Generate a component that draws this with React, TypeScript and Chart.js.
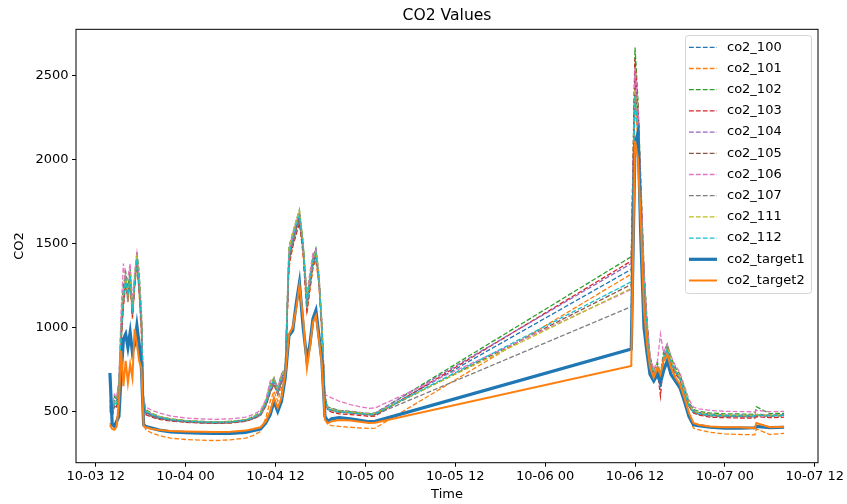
import React, { useEffect, useRef } from 'react';
import { Chart, registerables } from 'chart.js';

Chart.register(...registerables);

// hours since 10-03 00:00
const times = [
  13.9, 14.2, 14.5, 14.8, 15.1, 15.4, 15.7, 16.0, 16.3, 16.6, 16.9, 17.2, 17.5, 17.8, 18.1, 18.4, 18.7,
  19.5, 20.5, 22, 24, 26, 28, 30, 32, 33, 34,
  34.7, 35.3, 35.8, 36.3, 36.8, 37.3, 37.8, 38.3, 38.8, 39.2, 39.7, 40.2, 40.6, 41.0, 41.4, 41.8, 42.2, 42.6, 43.0,
  43.5, 44.5, 46, 47.5, 48.5, 49.3,
  83.5, 84.0, 84.4, 84.8, 85.2, 85.6, 86.0, 86.5, 87.0, 87.4, 87.8, 88.3, 88.8, 89.4, 90.0, 90.6, 91.2, 91.8, 92.5,
  94, 96, 98, 100.0, 100.2, 102, 103.9,
];

const co2_100 = [
  540, 500, 570, 560, 640, 980, 1180, 1280, 1150, 1300, 1080, 1260, 1400, 1220, 1000, 530, 495,
  475, 460, 448, 440, 436, 433, 436, 447, 462, 485,
  550, 640, 690, 620, 700, 740, 1400, 1510, 1600, 1660, 1460, 1130, 1260, 1380, 1430, 1280, 980, 570, 515,
  510, 500, 495, 488, 482, 480,
  1345, 2450, 2200, 1720, 1280, 980, 790, 710, 760, 690, 810, 870, 790, 735, 695, 610, 535, 495, 485,
  476, 472, 472, 470, 478, 474, 476,
];
const co2_101 = [
  430, 400, 420, 450, 560, 900, 1200, 1300, 1150, 1280, 1050, 1230, 1380, 1200, 950, 420, 390,
  370, 355, 340, 332, 328, 326, 330, 340, 355, 380,
  460, 560, 620, 560, 640, 690, 1350, 1480, 1570, 1640, 1420, 1080, 1220, 1350, 1400, 1250, 950, 450, 420,
  415, 410, 405, 400, 398, 400,
  1317, 2350, 2100, 1650, 1200, 950, 760, 680, 720, 660, 780, 840, 760, 700, 660, 570, 470, 400, 390,
  375, 365, 362, 360, 395, 362, 368,
];
const co2_102 = [
  560, 510, 590, 570, 680, 1050, 1250, 1330, 1220, 1350, 1120, 1300, 1450, 1330, 1100, 560, 510,
  488, 470, 455, 445, 440, 437, 440, 450, 468, 495,
  560, 660, 700, 640, 720, 760, 1480, 1560, 1640, 1700, 1500, 1180, 1300, 1420, 1470, 1320, 1020, 590, 525,
  518, 505, 498, 490, 485, 488,
  1420, 2665, 2350, 1850, 1350, 1050, 830, 740, 790, 720, 850, 900, 820, 760, 720, 640, 555, 510, 500,
  490, 485, 484, 482, 527, 486, 488,
];
const co2_103 = [
  510, 470, 540, 530, 610, 940, 1120, 1260, 1180, 1290, 1060, 1250, 1400, 1230, 1030, 520, 480,
  465, 452, 442, 435, 430, 428, 430, 440, 455, 475,
  530, 610, 660, 600, 670, 710, 1380, 1480, 1560, 1620, 1440, 1100, 1230, 1360, 1420, 1270, 990, 560, 505,
  495, 485, 480, 475, 470, 472,
  1395, 2600, 2300, 1800, 1320, 1020, 810, 700, 740, 590, 800, 860, 780, 720, 690, 610, 530, 490, 478,
  465, 462, 460, 460, 468, 462, 465,
];
const co2_104 = [
  530, 490, 560, 545, 630, 960, 1200, 1310, 1210, 1330, 1090, 1270, 1420, 1260, 1060, 540, 500,
  480, 466, 452, 443, 438, 435, 437, 447, 462, 485,
  545, 630, 690, 615, 695, 730, 1440, 1540, 1620, 1680, 1490, 1160, 1290, 1410, 1460, 1300, 1010, 585, 522,
  515, 505, 500, 492, 488, 490,
  1380, 2500, 2250, 1760, 1300, 1000, 800, 720, 770, 710, 830, 880, 800, 745, 705, 625, 545, 505, 493,
  483, 478, 477, 476, 482, 478, 480,
];
const co2_105 = [
  500, 470, 530, 525, 600, 920, 1140, 1270, 1190, 1300, 1080, 1260, 1390, 1240, 1040, 530, 490,
  472, 458, 446, 438, 433, 430, 433, 443, 457, 478,
  535, 615, 670, 605, 680, 715, 1400, 1500, 1590, 1650, 1470, 1140, 1260, 1390, 1440, 1290, 1000, 570, 512,
  505, 495, 490, 484, 480, 482,
  1255, 2480, 2230, 1740, 1290, 990, 795, 715, 760, 700, 815, 875, 795, 738, 698, 618, 538, 498, 488,
  478, 474, 473, 472, 478, 474, 476,
];
const co2_106 = [
  570, 520, 600, 580, 690, 1100, 1380, 1250, 1300, 1380, 1150, 1320, 1440, 1300, 1080, 570, 525,
  505, 490, 472, 460, 455, 452, 455, 465, 480, 505,
  570, 680, 700, 640, 720, 750, 1460, 1560, 1630, 1690, 1470, 1200, 1330, 1440, 1460, 1310, 1020, 600, 590,
  580, 560, 540, 525, 518, 520,
  1225, 2550, 2300, 1800, 1330, 1030, 820, 750, 800, 960, 850, 900, 830, 770, 730, 650, 570, 525, 515,
  505, 500, 498, 497, 505, 498, 500,
];
const co2_107 = [
  520, 480, 550, 540, 620, 950, 1160, 1270, 1180, 1300, 1070, 1250, 1390, 1230, 1030, 520, 485,
  470, 456, 445, 437, 432, 430, 432, 442, 456, 476,
  535, 615, 665, 600, 675, 710, 1390, 1500, 1580, 1640, 1460, 1120, 1250, 1370, 1430, 1280, 990, 565, 510,
  502, 494, 490, 483, 478, 480,
  1123, 2400, 2150, 1700, 1260, 980, 785, 705, 750, 690, 805, 865, 785, 730, 690, 610, 530, 492, 482,
  472, 468, 468, 467, 474, 470, 472,
];
const co2_111 = [
  530, 490, 565, 550, 640, 990, 1190, 1300, 1200, 1320, 1100, 1290, 1430, 1270, 1080, 550, 505,
  485, 470, 455, 446, 440, 437, 440, 450, 466, 490,
  555, 650, 700, 625, 710, 745, 1460, 1560, 1640, 1695, 1500, 1170, 1290, 1410, 1450, 1300, 1010, 580, 520,
  512, 502, 496, 490, 485, 487,
  1232, 2420, 2180, 1720, 1280, 990, 800, 715, 765, 640, 820, 880, 800, 742, 702, 622, 542, 502, 492,
  482, 477, 476, 475, 481, 477, 479,
];
const co2_112 = [
  525, 485, 555, 545, 630, 970, 1170, 1290, 1190, 1310, 1090, 1270, 1410, 1250, 1050, 540, 500,
  480, 465, 450, 442, 437, 434, 437, 447, 462, 485,
  548, 640, 690, 618, 700, 735, 1430, 1530, 1610, 1670, 1480, 1150, 1280, 1400, 1440, 1290, 1000, 575, 515,
  508, 498, 492, 486, 482, 484,
  1271, 2380, 2150, 1700, 1270, 985, 795, 712, 758, 700, 812, 872, 792, 735, 695, 615, 535, 497, 487,
  478, 474, 473, 472, 478, 474, 476,
];
const co2_target1 = [
  728, 425, 410, 440, 470, 720, 930, 960, 880, 970, 850, 900, 1010, 900, 760, 420, 410,
  400, 388, 378, 373, 370, 368, 369, 375, 385, 395,
  430, 480, 560, 500, 560, 700, 950, 980, 1150, 1264, 1000, 805, 900, 1050, 1100, 950, 800, 470, 440,
  455, 462, 455, 445, 438, 440,
  870, 2090, 2160, 1500, 1000, 850, 720, 680, 720, 670, 740, 800, 720, 680, 640, 560, 470, 420, 415,
  405, 400, 400, 402, 410, 403, 405,
];
const co2_target2 = [
  420, 395, 390, 410, 550, 860, 650, 800, 670, 780, 700, 990, 900, 800, 760, 410, 405,
  395, 388, 382, 380, 378, 377, 378, 385, 395, 405,
  440, 500, 580, 520, 580, 720, 960, 1000, 1120, 1250, 1050, 757, 880, 1030, 1070, 930, 780, 450, 430,
  440, 448, 445, 436, 430, 432,
  770, 2110, 2000, 1600, 1100, 900, 760, 700, 760, 720, 800, 840, 760, 700, 660, 580, 490, 430, 420,
  410, 405, 405, 400, 430, 405, 408,
];

const seriesNames = [
  'co2_100', 'co2_101', 'co2_102', 'co2_103', 'co2_104', 'co2_105', 'co2_106', 'co2_107',
  'co2_111', 'co2_112', 'co2_target1', 'co2_target2',
];
const seriesValues = [
  co2_100, co2_101, co2_102, co2_103, co2_104, co2_105, co2_106, co2_107,
  co2_111, co2_112, co2_target1, co2_target2,
];
const seriesColors = [
  '#1f77b4', '#ff7f0e', '#2ca02c', '#d62728', '#9467bd', '#8c564b', '#e377c2', '#7f7f7f',
  '#bcbd22', '#17becf', '#1f77b4', '#ff7f0e',
];

const xTickValues = [12, 24, 36, 48, 60, 72, 84, 96, 108];
const xTickLabels = [
  '10-03 12', '10-04 00', '10-04 12', '10-05 00', '10-05 12', '10-06 00', '10-06 12', '10-07 00', '10-07 12',
];
const yTickValues = [500, 1000, 1500, 2000, 2500];

const FONT = '"DejaVu Sans", sans-serif';

const framePlugin = {
  id: 'mplFrame',
  afterDatasetsDraw(chart: any) {
    const { ctx, chartArea } = chart;
    ctx.save();
    ctx.strokeStyle = '#000';
    ctx.lineWidth = 1;
    ctx.strokeRect(chartArea.left, chartArea.top, chartArea.right - chartArea.left, chartArea.bottom - chartArea.top);
    ctx.restore();
  },
};

const legendPlugin = {
  id: 'mplLegend',
  afterDraw(chart: any) {
    const ctx = chart.ctx;
    ctx.save();
    const x0 = 685.5, y0 = 35.5, w = 126, h = 258, r = 3;
    ctx.beginPath();
    ctx.moveTo(x0 + r, y0);
    ctx.lineTo(x0 + w - r, y0);
    ctx.arcTo(x0 + w, y0, x0 + w, y0 + r, r);
    ctx.lineTo(x0 + w, y0 + h - r);
    ctx.arcTo(x0 + w, y0 + h, x0 + w - r, y0 + h, r);
    ctx.lineTo(x0 + r, y0 + h);
    ctx.arcTo(x0, y0 + h, x0, y0 + h - r, r);
    ctx.lineTo(x0, y0 + r);
    ctx.arcTo(x0, y0, x0 + r, y0, r);
    ctx.closePath();
    ctx.fillStyle = 'rgba(255,255,255,0.8)';
    ctx.fill();
    ctx.strokeStyle = 'rgba(204,204,204,0.8)';
    ctx.lineWidth = 1;
    ctx.stroke();
    chart.data.datasets.forEach((ds: any, i: number) => {
      const y = 47.3 + i * 21.2;
      ctx.beginPath();
      ctx.setLineDash(ds.borderDash || []);
      ctx.lineWidth = ds.borderWidth;
      ctx.strokeStyle = ds.borderColor;
      ctx.moveTo(689, y);
      ctx.lineTo(717, y);
      ctx.stroke();
      ctx.setLineDash([]);
      ctx.fillStyle = '#000';
      ctx.font = `13px ${FONT}`;
      ctx.textBaseline = 'middle';
      ctx.textAlign = 'left';
      ctx.fillText(ds.label, 727, y);
    });
    ctx.restore();
  },
};

export default function App() {
  const canvasRef = useRef<HTMLCanvasElement | null>(null);

  useEffect(() => {
    if (!canvasRef.current) return;
    const datasets = seriesNames.map((name, i) => {
      const dashed = i < 10;
      return {
        label: name,
        data: times.map((t, j) => ({ x: t, y: seriesValues[i][j] })),
        borderColor: seriesColors[i],
        backgroundColor: seriesColors[i],
        borderWidth: dashed ? 1.3 : i === 10 ? 3.2 : 2,
        borderDash: dashed ? [4.8, 2.1] : [],
        pointRadius: 0,
        tension: 0,
        fill: false,
        order: seriesNames.length - i,
      };
    });
    const chart = new Chart(canvasRef.current, {
      type: 'line',
      data: { datasets } as any,
      options: {
        responsive: false,
        animation: false,
        devicePixelRatio: 1,
        layout: { padding: { left: 0, right: 29, top: 0, bottom: 0 } },
        plugins: {
          legend: { display: false },
          tooltip: { enabled: false },
          title: {
            display: true,
            text: 'CO2 Values',
            fullSize: false,
            color: '#000',
            font: { family: FONT, size: 15.6, weight: 'normal', lineHeight: 1.2 },
            padding: { top: 6.1, bottom: 4.5 },
          },
        },
        scales: {
          x: {
            type: 'linear',
            min: 9.37,
            max: 108.43,
            afterBuildTicks: (s: any) => {
              s.ticks = xTickValues.map((v) => ({ value: v }));
            },
            afterFit: (s: any) => {
              s.height = 41.3;
            },
            ticks: {
              callback: (_v: any, i: number) => xTickLabels[i],
              color: '#000',
              font: { family: FONT, size: 13, lineHeight: 1.2 },
              padding: 2.2,
              maxRotation: 0,
              minRotation: 0,
              autoSkip: false,
            },
            grid: { drawOnChartArea: false, drawTicks: true, tickLength: 4, color: '#000', lineWidth: 1 },
            border: { display: false },
            title: {
              display: true,
              text: 'Time',
              color: '#000',
              font: { family: FONT, size: 13, lineHeight: 1.2 },
              padding: { top: 0, bottom: 1.2 },
            },
          },
          y: {
            type: 'linear',
            min: 194,
            max: 2774,
            afterBuildTicks: (s: any) => {
              s.ticks = yTickValues.map((v) => ({ value: v }));
            },
            afterFit: (s: any) => {
              s.width = 76;
            },
            ticks: {
              callback: (v: any) => String(v),
              color: '#000',
              font: { family: FONT, size: 13, lineHeight: 1.2 },
              padding: 3.5,
            },
            grid: { drawOnChartArea: false, drawTicks: true, tickLength: 4, color: '#000', lineWidth: 1 },
            border: { display: false },
            title: {
              display: true,
              text: 'CO2',
              color: '#000',
              font: { family: FONT, size: 13, lineHeight: 1.2 },
              padding: { top: 12.2, bottom: 0 },
            },
          },
        },
      } as any,
      plugins: [framePlugin, legendPlugin],
    });
    return () => chart.destroy();
  }, []);

  return (
    <div style={{ position: 'fixed', left: 0, top: 0, width: 847, height: 504, background: '#fff' }}>
      <canvas ref={canvasRef} width={847} height={504} style={{ display: 'block', width: 847, height: 504 }} />
    </div>
  );
}
